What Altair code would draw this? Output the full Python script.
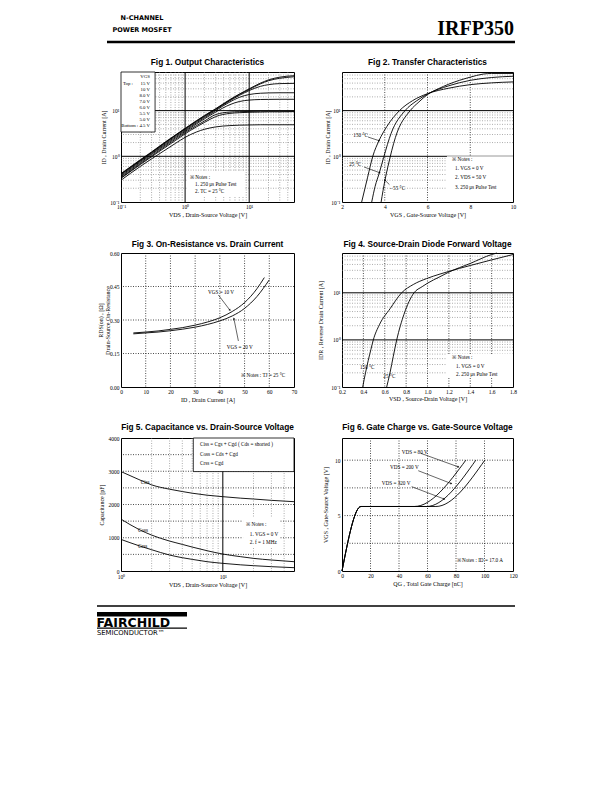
import altair as alt
import pandas as pd
import math

SERIF = "Liberation Serif, Times New Roman, serif"
SANS_B = "Liberation Sans Narrow, Arial Narrow, Liberation Sans, Arial, sans-serif"
SANS = "DejaVu Sans, Liberation Sans, sans-serif"

# ---------------- Fig 1 : Output characteristics ----------------
f1_series = ["15 V", "10 V", "8.0 V", "7.0 V", "6.0 V", "5.5 V", "5.0 V", "4.5 V"]
f1_vds = [0.1, 0.2, 0.3, 0.5, 0.7, 1, 1.5, 2, 3, 5, 7, 10, 15, 20, 30, 50]
f1_id_15 = [0.42, 0.84, 1.25, 2.1, 2.9, 4.1, 6.0, 7.8, 11, 17.5, 23, 30, 40, 47, 54, 58]
f1_id_10 = [0.41, 0.82, 1.22, 2.05, 2.85, 4.0, 5.9, 7.6, 10.8, 17, 22.5, 29, 38.5, 45, 51, 55]
f1_id_8 = [0.40, 0.80, 1.2, 2.0, 2.8, 3.9, 5.7, 7.4, 10.5, 16.5, 21.5, 27.5, 34, 37, 39, 39.5]
f1_id_7 = [0.38, 0.77, 1.15, 1.9, 2.65, 3.7, 5.4, 7.0, 10, 15.5, 19.5, 22.5, 24, 24.4, 24.6, 24.6]
f1_id_6 = [0.36, 0.73, 1.1, 1.8, 2.5, 3.5, 5.1, 6.6, 9.3, 13.5, 15.8, 17, 17.5, 17.6, 17.7, 17.7]
f1_id_55 = [0.34, 0.69, 1.03, 1.7, 2.35, 3.3, 4.7, 5.9, 8.2, 9.3, 9.5, 9.6, 9.7, 9.7, 9.7, 9.7]
f1_id_5 = [0.33, 0.66, 0.98, 1.6, 2.2, 3.1, 4.4, 5.5, 7.4, 8.7, 9.0, 9.2, 9.3, 9.4, 9.4, 9.5]
f1_id_45 = [0.30, 0.6, 0.88, 1.4, 1.9, 2.6, 3.4, 3.9, 4.4, 4.7, 4.8, 4.85, 4.9, 4.9, 4.9, 4.9]
f1_ticks = [0.1, 1, 10]
f1_ticklabels = ["10⁻¹", "10⁰", "10¹"]
f1_minor_x = [0.2, 0.3, 0.4, 0.5, 0.6, 0.7, 0.8, 0.9, 2, 3, 4, 5, 6, 7, 8, 9, 20, 30, 40]
f1_minor_y = [0.2, 0.3, 0.4, 0.5, 0.6, 0.7, 0.8, 0.9, 2, 3, 4, 5, 6, 7, 8, 9, 20, 30, 40, 50, 60]
f1_major = [1, 10]
f1_leg_text = ["VGS", "15 V", "10 V", "8.0 V", "7.0 V", "6.0 V", "5.5 V", "5.0 V", "Bottom : 4.5 V"]
f1_leg_x = [0.283] * 9
f1_leg_y = [55.2, 38.8, 28.7, 21.2, 15.6, 11.6, 8.55, 6.32, 4.67]
f1_top_text = ["Top :"]
f1_top_x = [0.107]
f1_top_y = [38.8]
f1_box = {"x1": [0.1], "x2": [0.34], "y1": [3.4], "y2": [70]}
f1_note_text = ["※ Notes :", "1. 250 μs Pulse Test", "2. TC = 25 °C"]
f1_note_x = [1.19, 1.43, 1.43]
f1_note_y = [0.352, 0.248, 0.174]
f1_note_box = {"x1": [1.07], "x2": [8.6], "y1": [0.135], "y2": [0.477]}

# ---------------- Fig 2 : Transfer characteristics ----------------
f2_series = ["150 °C", "25 °C", "-55 °C"]
f2_vgs_150 = [2.92, 3.2, 3.44, 3.73, 4.1, 4.69, 5.3, 6.0, 7, 8, 9, 10]
f2_id_150 = [0.1, 0.35, 1.0, 2.2, 4.5, 10, 16.5, 23.5, 31, 37, 40.5, 42.5]
f2_vgs_25 = [3.39, 3.55, 3.75, 3.95, 4.3, 4.95, 5.5, 6.0, 7, 8, 9, 10]
f2_id_25 = [0.1, 0.22, 0.44, 0.95, 3.2, 10, 16.5, 23, 35, 46, 53, 56.5]
f2_vgs_m55 = [3.83, 4.01, 4.15, 4.5, 5.19, 5.6, 6.0, 6.5, 7, 8, 8.6, 9, 10]
f2_id_m55 = [0.1, 0.3, 0.6, 2.6, 10, 15.5, 22.5, 30, 38, 54, 63, 65, 65]
f2_xticks = [2, 4, 6, 8, 10]
f2_xlabels = ["2", "4", "6", "8", "10"]
f2_grid_x = [4, 6, 8]
f2_minor_y = f1_minor_y
f2_major_y = [1, 10]
f2_note_box = {"x1": [6.91], "x2": [10], "y1": [0.1], "y2": [1.0]}
f2_lab_text = ["150 °C", "25 °C", "- 55 °C"]
f2_lab_x = [2.53, 2.34, 4.25]
f2_lab_y = [2.93, 0.668, 0.206]
f2_arrow = {"x1": [3.22, 3.03, 4.22], "y1": [2.64, 0.583, 0.24],
            "x2": [3.73, 3.75, 4.01], "y2": [2.2, 0.44, 0.30],
            "a": [108, 110, 330]}
f2_note_text = ["※ Notes :", "1. VGS = 0 V", "2. VDS = 50 V", "3. 250 μs Pulse Test"]
f2_note_x = [7.16, 7.29, 7.29, 7.29]
f2_note_y = [0.86, 0.546, 0.347, 0.216]

# ---------------- Fig 3 : On-resistance ----------------
f3_series = ["VGS = 10 V", "VGS = 20 V"]
f3_id_10 = [5, 10, 15, 20, 25, 30, 35, 40, 45, 50, 55, 58]
f3_r_10 = [0.242, 0.246, 0.251, 0.258, 0.266, 0.277, 0.291, 0.31, 0.338, 0.378, 0.44, 0.49]
f3_id_20 = [5, 10, 15, 20, 25, 30, 35, 40, 45, 50, 55, 60]
f3_r_20 = [0.238, 0.242, 0.246, 0.252, 0.259, 0.268, 0.28, 0.296, 0.318, 0.352, 0.405, 0.48]
f3_xticks = [0, 10, 20, 30, 40, 50, 60, 70]
f3_xlabels = ["0", "10", "20", "30", "40", "50", "60", "70"]
f3_yticks = [0, 0.15, 0.30, 0.45, 0.60]
f3_ylabels = ["0.00", "0.15", "0.30", "0.45", "0.60"]
f3_grid_x = [10, 20, 30, 40, 50, 60]
f3_grid_y = [0.15, 0.30, 0.45]
f3_lab_text = ["VGS = 10 V", "VGS = 20 V"]
f3_lab_x = [35.2, 42.8]
f3_lab_y = [0.424, 0.18]
f3_arrow = {"x1": [39.4, 47.5], "y1": [0.412, 0.206], "x2": [44.0, 45.7], "y2": [0.345, 0.305],
            "a": [143, 349]}
f3_note_text = ["※ Notes : TJ = 25 °C"]
f3_note_x = [48.6]
f3_note_y = [0.054]

# ---------------- Fig 4 : Source-drain diode ----------------
f4_series = ["150 °C", "25 °C"]
f4_vsd_150 = [0.394, 0.42, 0.446, 0.47, 0.493, 0.55, 0.65, 0.758, 0.867, 0.99, 1.117, 1.2, 1.4, 1.6, 1.8]
f4_i_150 = [0.1, 0.2, 0.37, 0.62, 1.0, 2.1, 4.6, 10, 15, 20, 25, 28.5, 38, 50, 65]
f4_vsd_25 = [0.618, 0.649, 0.68, 0.712, 0.78, 0.874, 0.95, 1.0, 1.117, 1.2, 1.4, 1.6, 1.65]
f4_i_25 = [0.1, 0.2, 0.45, 1.0, 3.5, 10, 13.5, 16, 22, 27.5, 42, 65, 70]
f4_xticks = [0.2, 0.4, 0.6, 0.8, 1.0, 1.2, 1.4, 1.6, 1.8]
f4_xlabels = ["0.2", "0.4", "0.6", "0.8", "1.0", "1.2", "1.4", "1.6", "1.8"]
f4_grid_x = [0.4, 0.6, 0.8, 1.0, 1.2, 1.4, 1.6]
f4_note_box = {"x1": [1.18], "x2": [1.8], "y1": [0.16], "y2": [0.5]}
f4_lab_text = ["150 °C", "25 °C"]
f4_lab_x = [0.368, 0.587]
f4_lab_y = [0.266, 0.171]
f4_note_text = ["※ Notes :", "1. VGS = 0 V", "2. 250 μs Pulse Test"]
f4_note_x = [1.233, 1.267, 1.267]
f4_note_y = [0.434, 0.279, 0.186]

# ---------------- Fig 5 : Capacitance ----------------
f5_series = ["Ciss", "Coss", "Crss"]
f5_vds = [1, 1.5, 2, 3, 4, 5, 7, 10, 15, 20, 30, 50]
f5_ciss = [2990, 2750, 2590, 2460, 2390, 2340, 2280, 2235, 2190, 2165, 2125, 2085]
f5_coss = [1560, 1250, 1080, 900, 800, 720, 610, 510, 430, 380, 330, 280]
f5_crss = [950, 760, 640, 480, 400, 350, 280, 230, 185, 160, 130, 100]
f5_xticks = [1, 10]
f5_xlabels = ["10⁰", "10¹"]
f5_yticks = [0, 1000, 2000, 3000, 4000]
f5_ylabels = ["0", "1000", "2000", "3000", "4000"]
f5_minor_x = [2, 3, 4, 5, 6, 7, 8, 9, 20, 30, 40]
f5_major_x = [10]
f5_grid_y = [500, 1000, 1500, 2000, 2500, 3000, 3500]
f5_box = {"x1": [5.13], "x2": [50], "y1": [2990], "y2": [4000]}
f5_box_text = ["Ciss = Cgs + Cgd  ( Cds = shorted )", "Coss = Cds + Cgd", "Crss = Cgd"]
f5_box_x = [5.97, 5.97, 5.97]
f5_box_y = [3811, 3510, 3240]
f5_lab_text = ["Ciss", "Coss", "Crss"]
f5_lab_x = [1.56, 1.47, 1.47]
f5_lab_y = [2686, 1233, 760]
f5_note_box = {"x1": [15.8], "x2": [36.4], "y1": [692], "y2": [1594]}
f5_note_text = ["※ Notes :", "1. VGS = 0 V", "2. f = 1 MHz"]
f5_note_x = [17.0, 18.4, 18.4]
f5_note_y = [1405, 1104, 863]

# ---------------- Fig 6 : Gate charge ----------------
f6_series = ["VDS = 80 V", "VDS = 200 V", "VDS = 320 V"]
f6_qg_80 = [0, 13.3, 50.8, 86.9]
f6_qg_200 = [0, 13.3, 59.4, 93.9]
f6_qg_320 = [0, 13.3, 65.9, 100.2]
f6_vgs = [0, 5.82, 5.82, 10]
f6_xticks = [0, 20, 40, 60, 80, 100, 120]
f6_xlabels = ["0", "20", "40", "60", "80", "100", "120"]
f6_yticks = [0, 5, 10]
f6_ylabels = ["0", "5", "10"]
f6_grid_x = [20, 40, 60, 80, 100]
f6_grid_y = [2.5, 5, 7.5, 10]
f6_lab_text = ["VDS = 80 V", "VDS = 200 V", "VDS = 320 V"]
f6_lab_x = [41.9, 33.7, 27.9]
f6_lab_y = [10.71, 9.41, 7.97]
f6_arrow = {"x1": [55.2, 53.5, 48.9], "y1": [10.62, 9.05, 7.61],
            "x2": [81.5, 76.5, 71.6], "y2": [9.4, 7.9, 6.5],
            "a": [108, 111, 110]}
f6_note_text = ["※ Notes : ID = 17.0 A"]
f6_note_x = [80.5]
f6_note_y = [0.99]

fig_titles = ["Fig 1.  Output Characteristics", "Fig 2.  Transfer Characteristics",
              "Fig 3.  On-Resistance vs. Drain Current", "Fig 4.  Source-Drain Diode Forward Voltage",
              "Fig 5.  Capacitance vs. Drain-Source Voltage", "Fig 6.  Gate Charge vs. Gate-Source Voltage"]
header_text = ["N-CHANNEL", "POWER MOSFET", "IRFP350"]
footer_text = ["FAIRCHILD", "SEMICONDUCTOR™"]

# ---------------- helpers ----------------
AXIS_STYLE = dict(labelFont=SERIF, labelFontSize=5.5, labelColor="black",
                  titleFont=SERIF, titleFontSize=6, titleFontWeight="normal", titleColor="black")


def lbl_expr(vals, labels, log=False):
    expr = "'" + labels[-1] + "'"
    for i in range(len(vals) - 2, -1, -1):
        th = math.sqrt(vals[i] * vals[i + 1]) if log else (vals[i] + vals[i + 1]) / 2
        expr = "datum.value < %r ? '%s' : (%s)" % (th, labels[i], expr)
    return expr


def make_enc(channel, domain, log, ticks, labels, title, tpos, pad=2):
    scale = alt.Scale(type="log" if log else "linear", domain=domain, nice=False, zero=False)
    kw = dict(values=ticks, labelExpr=lbl_expr(ticks, labels, log), title=title,
              titleBaseline="middle", labelFlush=False, labelOverlap=False, labelPadding=pad,
              ticks=False, domain=False, grid=False, titleLineHeight=7, **AXIS_STYLE)
    if channel == "x":
        axis = alt.Axis(titleY=tpos, **kw)
        return lambda f: alt.X(f, type="quantitative", scale=scale, axis=axis)
    axis = alt.Axis(titleX=tpos, **kw)
    return lambda f: alt.Y(f, type="quantitative", scale=scale, axis=axis)


def lines(names, xs_list, ys_list, X, Y, width=0.9):
    rows = []
    for n, xs, ys in zip(names, xs_list, ys_list):
        for i, (a, b) in enumerate(zip(xs, ys)):
            rows.append({"s": n, "x": a, "y": b, "o": i})
    return alt.Chart(pd.DataFrame(rows)).mark_line(
        color="black", strokeWidth=width, interpolate="monotone").encode(
        x=X("x"), y=Y("y"), detail="s:N", order="o:Q")


def vrules(vals, X, dash=None, color="black", width=0.8):
    kw = dict(color=color, strokeWidth=width)
    if dash:
        kw["strokeDash"] = dash
    return alt.Chart(pd.DataFrame({"v": vals})).mark_rule(**kw).encode(x=X("v"))


def hrules(vals, Y, dash=None, color="black", width=0.8):
    kw = dict(color=color, strokeWidth=width)
    if dash:
        kw["strokeDash"] = dash
    return alt.Chart(pd.DataFrame({"v": vals})).mark_rule(**kw).encode(y=Y("v"))


def box(b, X, Y, stroke=None):
    kw = dict(fill="white")
    if stroke:
        kw.update(stroke=stroke, strokeWidth=0.8)
    return alt.Chart(pd.DataFrame(b)).mark_rect(**kw).encode(
        x=X("x1"), x2="x2", y=Y("y1"), y2="y2")


def texts(t, xs, ys, X, Y, align="left", size=5.2):
    return alt.Chart(pd.DataFrame({"t": t, "x": xs, "y": ys})).mark_text(
        align=align, baseline="middle", font=SERIF, fontSize=size, color="black").encode(
        x=X("x"), y=Y("y"), text="t:N")


def arrows(a, X, Y):
    df = pd.DataFrame(a)
    shaft = alt.Chart(df).mark_rule(color="black", strokeWidth=0.6).encode(
        x=X("x1"), y=Y("y1"), x2="x2", y2="y2")
    head = alt.Chart(df).mark_point(shape="triangle", filled=True, color="black", size=5,
                                    opacity=1).encode(
        x=X("x2"), y=Y("y2"), angle=alt.Angle("a:Q", scale=None))
    return alt.layer(shaft, head)


def fig_title(t, w, dy):
    return alt.Chart(pd.DataFrame({"t": [t]})).mark_text(
        font=SANS_B, fontSize=8.3, fontWeight="bold", align="center", baseline="middle",
        color="black").encode(x=alt.value(w / 2), y=alt.value(dy), text="t:N")


def page_text(t, x, y, font, size, weight="normal", align="left", baseline="alphabetic"):
    return alt.Chart(pd.DataFrame({"t": [t]})).mark_text(
        font=font, fontSize=size, fontWeight=weight, align=align, baseline=baseline,
        color="black").encode(x=alt.value(x), y=alt.value(y), text="t:N")


def page_rect(x1, x2, y1, y2):
    return alt.Chart(pd.DataFrame({"t": [0]})).mark_rect(color="black").encode(
        x=alt.value(x1), x2=alt.value(x2), y=alt.value(y1), y2=alt.value(y2))


MINOR = dict(dash=[1, 1.5], color="#777777", width=0.6)
DOT = dict(dash=[1, 1.5], color="black", width=0.7)
MAJOR = dict(color="black", width=1.0)

# ---------------- Fig 1 ----------------
X1 = make_enc("x", [0.1, 50], True, f1_ticks, f1_ticklabels, "VDS , Drain-Source Voltage   [V]", 12)
Y1 = make_enc("y", [0.1, 70], True, f1_ticks, f1_ticklabels, "ID , Drain Current   [A]", -18)
fig1 = alt.layer(
    vrules(f1_minor_x, X1, **MINOR),
    hrules(f1_minor_y, Y1, **MINOR),
    vrules(f1_major, X1, **MAJOR),
    hrules(f1_major, Y1, **MAJOR),
    box(f1_note_box, X1, Y1),
    lines(f1_series, [f1_vds] * 8,
          [f1_id_15, f1_id_10, f1_id_8, f1_id_7, f1_id_6, f1_id_55, f1_id_5, f1_id_45], X1, Y1),
    box(f1_box, X1, Y1, stroke="black"),
    texts(f1_leg_text, f1_leg_x, f1_leg_y, X1, Y1, align="right", size=4.8),
    texts(f1_top_text, f1_top_x, f1_top_y, X1, Y1, size=4.8),
    texts(f1_note_text, f1_note_x, f1_note_y, X1, Y1),
    fig_title(fig_titles[0], 173, -9.5),
    # page header (outside the plot area)
    page_text(header_text[0], 21, -54, SANS, 6.5, "bold", "center", "middle"),
    page_text(header_text[1], 21, -42, SANS, 6.5, "bold", "center", "middle"),
    page_text(header_text[2], 393, -37, SERIF, 20, "bold", "right"),
    page_rect(-14, 394, -31.2, -28.8),
).properties(width=173, height=130)

# ---------------- Fig 2 ----------------
X2 = make_enc("x", [2, 10], False, f2_xticks, f2_xlabels, "VGS , Gate-Source Voltage   [V]", 12)
Y2 = make_enc("y", [0.1, 70], True, f1_ticks, f1_ticklabels, "ID , Drain Current   [A]", -15)
fig2 = alt.layer(
    hrules(f2_minor_y, Y2, **MINOR),
    vrules(f2_grid_x, X2, **DOT),
    hrules(f2_major_y, Y2, **MAJOR),
    box(f2_note_box, X2, Y2),
    lines(f2_series, [f2_vgs_150, f2_vgs_25, f2_vgs_m55], [f2_id_150, f2_id_25, f2_id_m55], X2, Y2),
    arrows(f2_arrow, X2, Y2),
    texts(f2_lab_text, f2_lab_x, f2_lab_y, X2, Y2),
    texts(f2_note_text, f2_note_x, f2_note_y, X2, Y2),
    fig_title(fig_titles[1], 171, -9.5),
).properties(width=171, height=130)

# ---------------- Fig 3 ----------------
X3 = make_enc("x", [0, 70], False, f3_xticks, f3_xlabels, "ID , Drain Current   [A]", 12)
Y3 = make_enc("y", [0, 0.6], False, f3_yticks, f3_ylabels,
              ["RDS(on) , [Ω]", "Drain-Source On-Resistance"], -21)
fig3 = alt.layer(
    vrules(f3_grid_x, X3, **DOT),
    hrules(f3_grid_y, Y3, **DOT),
    lines(f3_series, [f3_id_10, f3_id_20], [f3_r_10, f3_r_20], X3, Y3),
    arrows(f3_arrow, X3, Y3),
    texts(f3_lab_text, f3_lab_x, f3_lab_y, X3, Y3),
    texts(f3_note_text, f3_note_x, f3_note_y, X3, Y3),
    fig_title(fig_titles[2], 173, -8),
).properties(width=173, height=134)

# ---------------- Fig 4 ----------------
X4 = make_enc("x", [0.2, 1.8], False, f4_xticks, f4_xlabels, "VSD , Source-Drain Voltage   [V]", 11)
Y4 = make_enc("y", [0.1, 70], True, f1_ticks, f1_ticklabels, "IDR , Reverse Drain Current   [A]", -22)
fig4 = alt.layer(
    hrules(f1_minor_y, Y4, **MINOR),
    vrules(f4_grid_x, X4, **DOT),
    hrules(f1_major, Y4, **MAJOR),
    box(f4_note_box, X4, Y4),
    lines(f4_series, [f4_vsd_150, f4_vsd_25], [f4_i_150, f4_i_25], X4, Y4),
    texts(f4_lab_text, f4_lab_x, f4_lab_y, X4, Y4),
    texts(f4_note_text, f4_note_x, f4_note_y, X4, Y4),
    fig_title(fig_titles[3], 171, -8),
).properties(width=171, height=134)

# ---------------- Fig 5 ----------------
X5 = make_enc("x", [1, 50], True, f5_xticks, f5_xlabels, "VDS , Drain-Source Voltage  [V]", 13, pad=3.5)
Y5 = make_enc("y", [0, 4000], False, f5_yticks, f5_ylabels, "Capacitance   [pF]", -20)
fig5 = alt.layer(
    vrules(f5_minor_x, X5, **MINOR),
    hrules(f5_grid_y, Y5, **DOT),
    vrules(f5_major_x, X5, **MAJOR),
    box(f5_note_box, X5, Y5),
    lines(f5_series, [f5_vds] * 3, [f5_ciss, f5_coss, f5_crss], X5, Y5),
    box(f5_box, X5, Y5, stroke="black"),
    texts(f5_box_text, f5_box_x, f5_box_y, X5, Y5, size=5.2),
    texts(f5_lab_text, f5_lab_x, f5_lab_y, X5, Y5),
    texts(f5_note_text, f5_note_x, f5_note_y, X5, Y5),
    fig_title(fig_titles[4], 173, -10),
    # page footer (outside the plot area)
    page_rect(-24, 394, 167.3, 168.8),
    page_rect(-24, 66, 174, 178.5),
    page_rect(-24, 66, 189.5, 190.8),
    page_text(footer_text[0], -24.5, 189, SANS, 12.5, "bold"),
    page_text(footer_text[1], -24, 197, SANS, 6.8),
).properties(width=173, height=133)

# ---------------- Fig 6 ----------------
X6 = make_enc("x", [0, 120], False, f6_xticks, f6_xlabels, "QG , Total Gate Charge   [nC]", 12)
Y6 = make_enc("y", [0, 12], False, f6_yticks, f6_ylabels, "VGS , Gate-Source Voltage   [V]", -17)
fig6 = alt.layer(
    vrules(f6_grid_x, X6, **DOT),
    hrules(f6_grid_y, Y6, **DOT),
    lines(f6_series, [f6_qg_80, f6_qg_200, f6_qg_320], [f6_vgs] * 3, X6, Y6),
    arrows(f6_arrow, X6, Y6),
    texts(f6_lab_text, f6_lab_x, f6_lab_y, X6, Y6),
    texts(f6_note_text, f6_note_x, f6_note_y, X6, Y6),
    fig_title(fig_titles[5], 171, -10),
).properties(width=171, height=133)

chart = alt.concat(
    fig1, fig2, fig3, fig4, fig5, fig6, columns=2,
    spacing={"row": 51, "column": 48}, bounds="flush",
).properties(
    autosize=alt.AutoSizeParams(type="none"),
    padding={"left": 113, "top": 64, "right": 470, "bottom": 690},
    background="white",
).configure_view(
    stroke="black", strokeWidth=1, fill="white"
).configure_axis(**AXIS_STYLE)

chart.save("out.html", embed_options={"renderer": "svg", "actions": False})
